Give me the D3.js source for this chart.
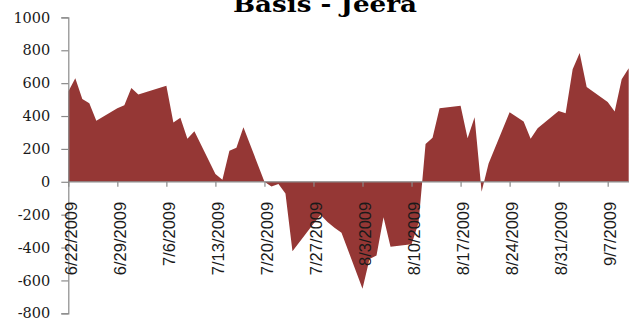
<!DOCTYPE html>
<html>
<head>
<meta charset="utf-8">
<script src="https://cdn.jsdelivr.net/npm/d3@7"></script>
<style>
  html, body { margin: 0; padding: 0; background: #fff; }
  svg { display: block; }
</style>
</head>
<body>
<svg id="chart" width="629" height="320"></svg>
<script>
// Daily basis for Jeera (trading days), June–September 2009
const dates = [
  "6/22/2009","6/23/2009","6/24/2009","6/25/2009","6/26/2009",
  "6/29/2009","6/30/2009","7/1/2009","7/2/2009",
  "7/6/2009","7/7/2009","7/8/2009","7/9/2009","7/10/2009",
  "7/13/2009","7/14/2009","7/15/2009","7/16/2009","7/17/2009",
  "7/20/2009","7/21/2009","7/22/2009","7/23/2009","7/24/2009",
  "7/27/2009","7/28/2009","7/29/2009","7/30/2009","7/31/2009",
  "8/3/2009","8/4/2009","8/5/2009","8/6/2009","8/7/2009",
  "8/10/2009","8/11/2009","8/12/2009","8/13/2009","8/14/2009",
  "8/17/2009","8/18/2009","8/19/2009","8/20/2009","8/21/2009",
  "8/24/2009","8/26/2009","8/27/2009","8/28/2009",
  "8/31/2009","9/1/2009","9/2/2009","9/3/2009","9/4/2009",
  "9/7/2009","9/8/2009","9/9/2009","9/10/2009"
];
const basis = [
  549, 630, 504, 478, 372,
  448, 466, 571, 531,
  584, 360, 390, 262, 307,
  47, 12, 189, 207, 332,
  0, -28, -14, -71, -423,
  -255, -200, -245, -280, -310,
  -650, -470, -448, -215, -395,
  -380, -250, 230, 268, 448,
  463, 265, 393, -61, 112,
  423, 366, 262, 325,
  431, 417, 685, 783, 576,
  486, 427, 624, 691
];
const xTickLabels = [
  "6/22/2009","6/29/2009","7/6/2009","7/13/2009","7/20/2009","7/27/2009",
  "8/3/2009","8/10/2009","8/17/2009","8/24/2009","8/31/2009","9/7/2009"
];
const yTickValues = [-800, -600, -400, -200, 0, 200, 400, 600, 800, 1000];
const title = "Basis - Jeera";

const parse = d3.utcParse("%m/%d/%Y");
const fmt = d3.utcFormat("%-m/%-d/%Y");
const rows = dates.map((d, i) => ({ date: parse(d), v: basis[i] }));

const svg = d3.select("#chart");
const W = 629, H = 320;

const x = d3.scaleUtc()
  .domain([parse("6/22/2009"), parse("9/10/2009")])
  .range([68.3, 628.7]);
const y = d3.scaleLinear()
  .domain([-800, 1000])
  .range([313.3, 17.4]);

svg.append("defs").append("clipPath").attr("id", "plot")
  .append("rect").attr("x", 0).attr("y", 0).attr("width", W).attr("height", H);

// filled area between the series and the zero line
const area = d3.area()
  .x(d => x(d.date))
  .y0(y(0))
  .y1(d => y(d.v));

svg.append("path")
  .datum(rows)
  .attr("clip-path", "url(#plot)")
  .attr("fill", "#953735")
  .attr("d", area);

const axisColor = "#8a8a8a";

// y axis
const yAxis = svg.append("g")
  .attr("transform", `translate(${x.range()[0]},0)`)
  .call(d3.axisLeft(y).tickValues(yTickValues).tickSize(7).tickPadding(11).tickFormat(d3.format("d")));
yAxis.select(".domain").attr("stroke", axisColor).attr("stroke-width", 1.2);
yAxis.selectAll(".tick line").attr("stroke", axisColor).attr("stroke-width", 1.2);
yAxis.selectAll(".tick text")
  .attr("fill", "#1a1a1a")
  .style("font-family", "'DejaVu Serif', serif")
  .style("font-size", "14.5px")
  .text(d => d < 0 ? "-" + Math.abs(d) : String(d));

// x axis along the zero line
const xAxis = svg.append("g")
  .attr("transform", `translate(0,${y(0)})`)
  .call(d3.axisBottom(x)
    .tickValues(xTickLabels.map(parse))
    .tickSize(5)
    .tickSizeOuter(0)
    .tickFormat(fmt));
xAxis.select(".domain")
  .attr("stroke", axisColor).attr("stroke-width", 1.2)
  .attr("d", `M${x.range()[0]},0H${W}`);
xAxis.selectAll(".tick line").attr("stroke", axisColor).attr("stroke-width", 1.2);
xAxis.selectAll(".tick text")
  .attr("fill", "#1a1a1a")
  .style("font-family", "'Liberation Sans', Arial, sans-serif")
  .style("font-size", "16.5px")
  .attr("text-anchor", "end")
  .attr("transform", "rotate(-90)")
  .attr("x", -20)
  .attr("y", 0)
  .attr("dy", "0.5em");

// title, partly above the top edge
svg.append("text")
  .attr("x", 325)
  .attr("y", 11.5)
  .attr("text-anchor", "middle")
  .attr("textLength", 184)
  .attr("lengthAdjust", "spacingAndGlyphs")
  .style("font-family", "'DejaVu Serif', serif")
  .style("font-weight", "bold")
  .style("font-size", "23px")
  .attr("fill", "#000")
  .text(title);
</script>
</body>
</html>
